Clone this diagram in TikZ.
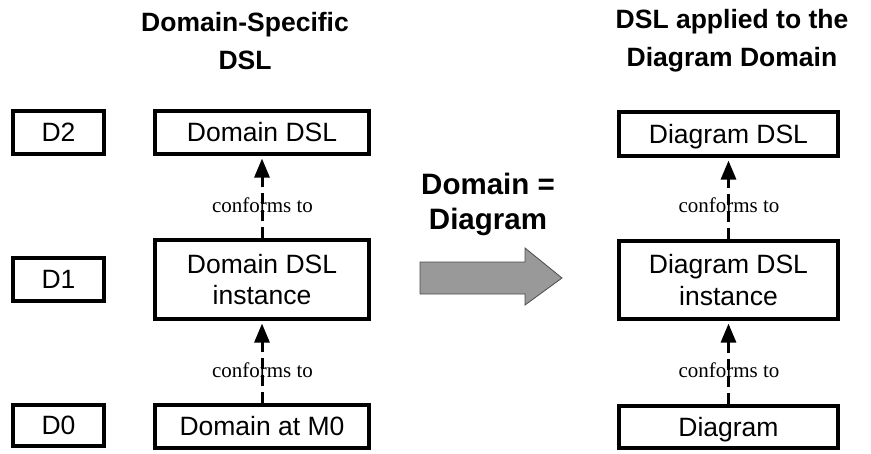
\documentclass[tikz,border=0pt]{standalone}
\usepackage{fontspec}
\setmainfont{Liberation Sans}
\newfontfamily\serifx{Liberation Serif}
\usetikzlibrary{arrows.meta}
\begin{document}
\begin{tikzpicture}[x=1pt,y=-1pt,
  box/.style={draw, line width=3.1pt, inner sep=0pt, align=center,
    font=\fontsize{26.5}{31.5}\selectfont},
  one/.style={text height=22pt, text depth=3.5pt},
  title/.style={align=center, font=\bfseries\fontsize{26.5}{38}\selectfont},
  conn/.style={line width=3pt, dash pattern=on 11pt off 6pt,
    -{Triangle[width=15pt,length=19pt]}, shorten >=3pt},
  lbl/.style={font=\serifx\fontsize{21}{22}\selectfont, inner sep=0pt}]
\useasboundingbox (0,0) rectangle (871,453);
% titles
\node[title] (t1) at (245,41) {Domain-Specific\\DSL};
\node[title] (t2) at (732,41) {DSL applied to the\\Diagram Domain};
% level labels
\node[box, one, minimum width=91pt, minimum height=43pt] (d2) at (58.5,132.5) {D2};
\node[box, one, minimum width=91pt, minimum height=43pt] (d1) at (58.5,279.5) {D1};
\node[box, one, minimum width=91pt, minimum height=41pt] (d0) at (58.5,425.5) {D0};
% left column
\node[box, one, minimum width=214pt, minimum height=43pt] (ldsl) at (262,132.5) {Domain DSL};
\node[box, minimum width=214pt, minimum height=79pt] (linst) at (262,279.5) {Domain DSL\\instance};
\node[box, one, minimum width=214pt, minimum height=43pt] (lm0) at (262,426.5) {Domain at M0};
% right column
\node[box, one, minimum width=219pt, minimum height=44pt] (rdsl) at (728.5,134) {Diagram DSL};
\node[box, minimum width=219pt, minimum height=78pt] (rinst) at (728.5,280) {Diagram DSL\\instance};
\node[box, one, minimum width=219pt, minimum height=42pt] (rdia) at (728.5,427) {Diagram};
% connectors
\draw[conn] (linst.north) -- (ldsl.south);
\draw[conn] (lm0.north) -- (linst.south);
\draw[conn] (rinst.north) -- (rdsl.south);
\draw[conn] (rdia.north) -- (rinst.south);
\node[lbl] (c1) at (262.5,205) {conforms to};
\node[lbl] (c2) at (262.5,370) {conforms to};
\node[lbl] (c3) at (729,205) {conforms to};
\node[lbl] (c4) at (729,370) {conforms to};
% middle
\node[title, font=\bfseries\fontsize{29.5}{35}\selectfont] (mid) at (488,204.5) {Domain =\\Diagram};
\draw[fill=black!40, draw=black!70, line width=0.8pt]
  (420,262) -- (525,262) -- (525,248) -- (562,278) -- (525,305) -- (525,294) -- (420,294) -- cycle;
\end{tikzpicture}
\end{document}
